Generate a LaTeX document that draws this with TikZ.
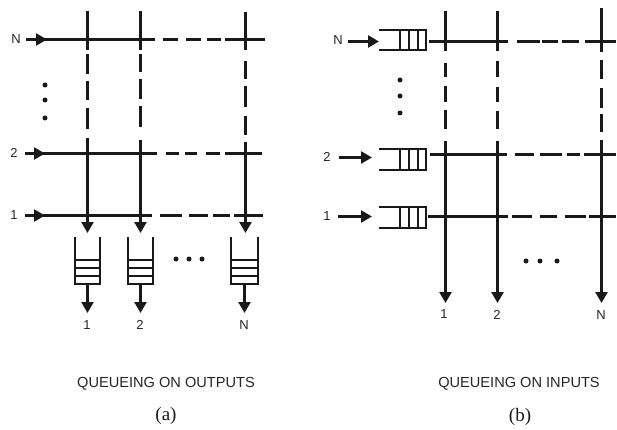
\documentclass[tikz,border=0pt]{standalone}
\usepackage{fontspec}
\setmainfont{Liberation Serif}
\setsansfont{Liberation Sans}
\usetikzlibrary{arrows.meta}
\tikzset{
 wire/.style={line width=2.4pt,black!90},
 thinwire/.style={line width=2.2pt,black!90},
 arr/.style={line width=2.4pt,black!90,-{Triangle[length=11pt,width=12pt]}},
 lab/.style={font=\sffamily\fontsize{13}{15}\selectfont,inner sep=0pt,black!85},
 captext/.style={font=\sffamily\fontsize{14.6}{16}\selectfont,inner sep=0pt,black!85},
 subtext/.style={font=\rmfamily\fontsize{19}{21}\selectfont,inner sep=0pt,black!90},
 qline/.style={line width=1.6pt,black!90},
 bigdot/.style={circle,fill=black!90,inner sep=0pt,minimum size=5pt},
}
\newcommand{\vq}[3]{% name, centre x, half width
 \coordinate (#1s) at (#2+0.5,285);
 \draw[qline] (#2-#3,237) -- (#2-#3,284) -- (#2+#3+1,284) -- (#2+#3+1,237);
 \draw[qline] (#2-#3,260) -- (#2+#3+1,260) (#2-#3,268) -- (#2+#3+1,268) (#2-#3,276) -- (#2+#3+1,276);
}
\newcommand{\hq}[2]{% top y, bottom y
 \draw[qline] (379,#1) -- (426,#1) -- (426,#2) -- (379,#2);
 \draw[qline] (400,#1) -- (400,#2) (409,#1) -- (409,#2) (418,#1) -- (418,#2);
}
\begin{document}
\begin{tikzpicture}[x=1pt,y=-1pt]
\useasboundingbox (0,0) rectangle (617,430);
% ---------- panel (a)
\node[lab] (ain) at (16,39) {N};
\node[lab] (ai2) at (14,153) {2};
\node[lab] (ai1) at (14,215) {1};
\coordinate (aNs) at (26,39.5); \coordinate (aNe) at (155,39.5);
\coordinate (a2s) at (25,153.5); \coordinate (a2e) at (157,153.5);
\coordinate (a1s) at (25,215.5); \coordinate (a1e) at (152,215.5);
\draw[arr] (aNs) -- (47,39.5); \draw[thinwire] (aNs) -- (aNe);
\draw[arr] (a2s) -- (45,153.5); \draw[thinwire] (a2s) -- (a2e);
\draw[arr] (a1s) -- (45,215.5); \draw[wire] (a1s) -- (a1e);
\foreach \a/\b in {163/178,186/201,207/221,225/265} \draw[thinwire] (\a,39.5) -- (\b,39.5);
\foreach \a/\b in {166/179,185/197,206/220,225/262} \draw[thinwire] (\a,153.5) -- (\b,153.5);
\foreach \a/\b in {160/182,189/208,213/230,234/263} \draw[wire] (\a,215.5) -- (\b,215.5);
% verticals
\foreach \x/\l in {87.5/{11/50,54/74,81/100,108/129},140.5/{11/50,54/72,79/99,106/127},245.5/{12/50,61/79,86/107,116/135}}
  \foreach \a/\b in \l \draw[wire] (\x,\a) -- (\x,\b);
\draw[arr] (87.5,138) -- (87.5,233);
\draw[arr] (140.5,140) -- (140.5,233);
\draw[arr] (245.5,142) -- (245.5,233);
% queues
\vq{qa1}{87}{12}
\vq{qa2}{140}{12}
\vq{qaN}{244}{13}
\node[lab] (oa1) at (87,325) {1};
\node[lab] (oa2) at (140,325) {2};
\node[lab] (oaN) at (244,325) {N};
\draw[arr] (qa1s) -- (87.5,313);
\draw[arr] (qa2s) -- (140.5,313);
\draw[arr] (qaNs) -- (244.5,313);
\foreach \x in {176,189,202} \node[bigdot] at (\x,259) {};
\foreach \y in {85,100,118} \node[bigdot] at (45,\y) {};
\node[captext] (capa) at (166,384) {QUEUEING ON OUTPUTS};
\node[subtext] (suba) at (166,416) {(a)};
% ---------- panel (b)
\node[lab] (bin) at (338,40) {N};
\node[lab] (bi2) at (327,157) {2};
\node[lab] (bi1) at (327,216) {1};
\hq{30}{50}
\hq{149}{170}
\hq{207}{228}
\draw[arr] (348,41.5) -- (379,41.5);
\draw[arr] (339,157.5) -- (372,157.5);
\draw[arr] (338,216.5) -- (372,216.5);
\foreach \a/\b in {429/508,517/540,542/558,562/579,585/616} \draw[thinwire] (\a,41.5) -- (\b,41.5);
\foreach \a/\b in {430/507,515/534,540/562,567/580,584/616} \draw[thinwire] (\a,154.5) -- (\b,154.5);
\foreach \a/\b in {428/508,512/532,540/557,565/586,589/616} \draw[thinwire] (\a,216.5) -- (\b,216.5);
\foreach \x/\l in {445.5/{11/51,63/77,86/102,110/129},497.5/{11/51,61/77,87/102,111/129},601.5/{8/52,60/79,88/108,114/132}}
  \foreach \a/\b in \l \draw[wire] (\x,\a) -- (\x,\b);
\node[lab] (ob1) at (444,314) {1};
\node[lab] (ob2) at (497,315) {2};
\node[lab] (obN) at (601,315) {N};
\draw[arr] (445.5,141) -- (445.5,303);
\draw[arr] (497.5,141) -- (497.5,303);
\draw[arr] (601.5,140) -- (601.5,303);
\foreach \x in {526,540,557} \node[bigdot] at (\x,261) {};
\foreach \y in {80,96,113} \node[bigdot] at (400,\y) {};
\node[captext] (capb) at (519,384) {QUEUEING ON INPUTS};
\node[subtext] (subb) at (520,417) {(b)};
\end{tikzpicture}
\end{document}
